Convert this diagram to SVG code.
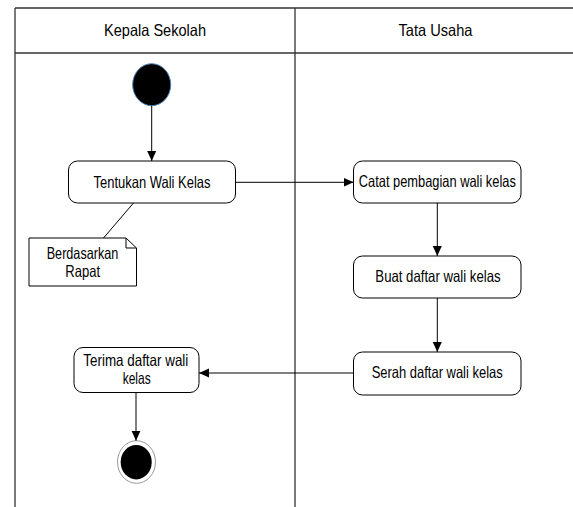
<svg xmlns="http://www.w3.org/2000/svg" width="573" height="507" viewBox="0 0 573 507">
<style>
.lane{fill:none;stroke:#333;stroke-width:1.3}
.act{fill:#fff;stroke:#000;stroke-width:1}
.t{font-family:"Liberation Sans","DejaVu Sans",sans-serif;font-size:16.5px;fill:#000;text-anchor:middle}
.c{fill:none;stroke:#000;stroke-width:1}
</style>
<defs>
<marker id="ah" viewBox="0 0 10 10" refX="10" refY="5" markerWidth="10" markerHeight="10" markerUnits="userSpaceOnUse" orient="auto">
<path d="M0,0.5 L10,5 L0,9.5 Z" fill="#000"/>
</marker>
</defs>
<rect width="573" height="507" fill="#fff"/>
<g id="swimlanes">
<line class="lane" x1="15" y1="8" x2="573" y2="8"/>
<line class="lane" x1="15" y1="53" x2="573" y2="53"/>
<line class="lane" x1="15" y1="8" x2="15" y2="507"/>
<line class="lane" x1="295" y1="8" x2="295" y2="507"/>
<text class="t" x="155" y="36" textLength="102" lengthAdjust="spacingAndGlyphs">Kepala Sekolah</text>
<text class="t" x="435.5" y="36" textLength="74" lengthAdjust="spacingAndGlyphs">Tata Usaha</text>
</g>
<g id="start">
<ellipse cx="151.7" cy="84.7" rx="19" ry="21" fill="#000" stroke="#4a7fb5" stroke-width="1"/>
</g>
<g id="tentukan">
<rect class="act" x="68.5" y="161" width="167" height="42" rx="9"/>
<text class="t" x="152" y="187.5" textLength="117" lengthAdjust="spacingAndGlyphs">Tentukan Wali Kelas</text>
</g>
<g id="note">
<path class="act" d="M29,238 H126 L136.5,248 V286 H29 Z"/>
<path class="c" d="M126,238 V248 H136.5"/>
<text class="t" x="82.5" y="259" textLength="71.6" lengthAdjust="spacingAndGlyphs">Berdasarkan</text>
<text class="t" x="82.7" y="277" textLength="34.7" lengthAdjust="spacingAndGlyphs">Rapat</text>
</g>
<g id="catat">
<rect class="act" x="353.5" y="161" width="167.5" height="42" rx="9"/>
<text class="t" x="437.3" y="187" textLength="157" lengthAdjust="spacingAndGlyphs">Catat pembagian wali kelas</text>
</g>
<g id="buat">
<rect class="act" x="353.5" y="256" width="167.5" height="42" rx="9"/>
<text class="t" x="438" y="282" textLength="125.3" lengthAdjust="spacingAndGlyphs">Buat daftar wali kelas</text>
</g>
<g id="serah">
<rect class="act" x="353.5" y="352" width="167.5" height="43" rx="9"/>
<text class="t" x="437.2" y="378" textLength="131" lengthAdjust="spacingAndGlyphs">Serah daftar wali kelas</text>
</g>
<g id="terima">
<rect class="act" x="74" y="347.5" width="125" height="45" rx="9"/>
<text class="t" x="135.8" y="366" textLength="105" lengthAdjust="spacingAndGlyphs">Terima daftar wali</text>
<text class="t" x="136.7" y="383.5" textLength="28" lengthAdjust="spacingAndGlyphs">kelas</text>
</g>
<g id="end">
<ellipse cx="136.5" cy="462" rx="19" ry="21.3" fill="#fff" stroke="#999" stroke-width="1"/>
<ellipse cx="136.2" cy="462.2" rx="15.5" ry="17.2" fill="#000"/>
</g>
<g id="connectors">
<line class="c" x1="151.7" y1="105.7" x2="151.7" y2="161" marker-end="url(#ah)"/>
<line class="c" x1="235.5" y1="182.3" x2="353.5" y2="182.3" marker-end="url(#ah)"/>
<line class="c" x1="103.5" y1="238" x2="133.5" y2="203"/>
<line class="c" x1="437.3" y1="203" x2="437.3" y2="256" marker-end="url(#ah)"/>
<line class="c" x1="437.3" y1="298" x2="437.3" y2="352" marker-end="url(#ah)"/>
<line class="c" x1="353.5" y1="373" x2="199" y2="373" marker-end="url(#ah)"/>
<line class="c" x1="136" y1="392.5" x2="136" y2="440.7" marker-end="url(#ah)"/>
</g>
</svg>
